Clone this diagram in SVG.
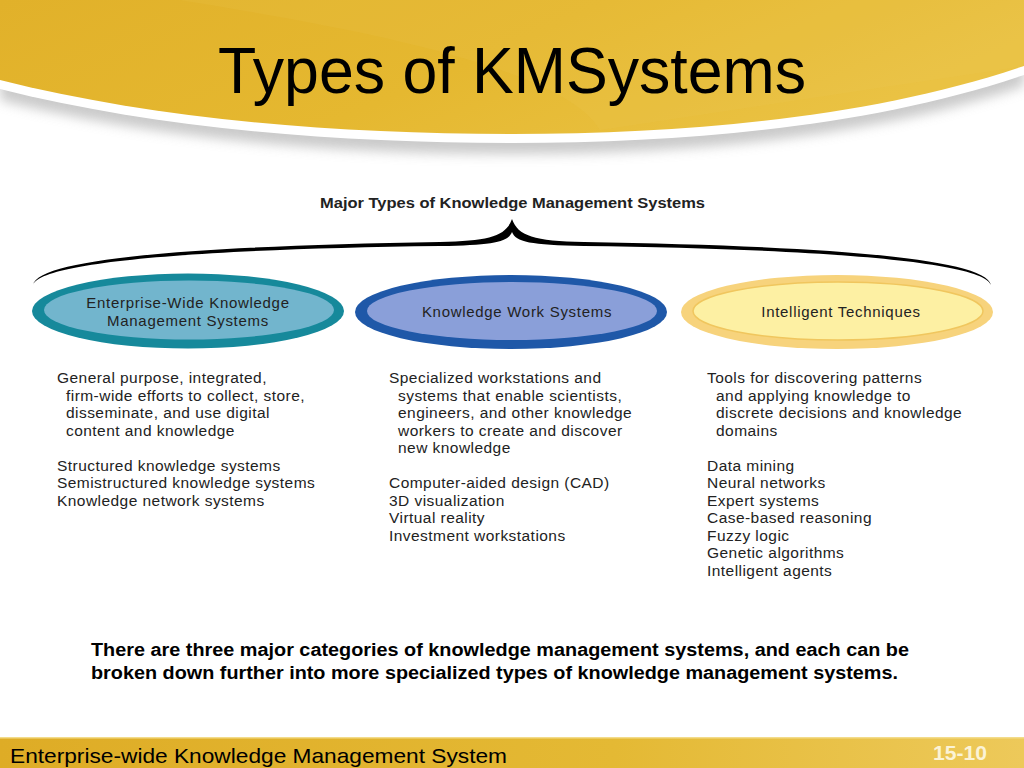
<svg xmlns="http://www.w3.org/2000/svg" width="1024" height="768" viewBox="0 0 1024 768">
<defs>
<linearGradient id="hdr" x1="0" y1="0" x2="1" y2="0.3">
<stop offset="0" stop-color="#e1b12a"/>
<stop offset="0.55" stop-color="#e5b830"/>
<stop offset="1" stop-color="#eac243"/>
</linearGradient>
<linearGradient id="ftr" x1="0" y1="0" x2="1" y2="0">
<stop offset="0" stop-color="#deac26"/>
<stop offset="0.6" stop-color="#e4b934"/>
<stop offset="1" stop-color="#edc95a"/>
</linearGradient>
<filter id="blur" x="-5%" y="-50%" width="110%" height="200%">
<feGaussianBlur stdDeviation="6"/>
</filter>
<path id="swoosh" d="M0 0 L1024 0 L1024 66 C880 115 700 134 512 134 C330 134 150 118 0 80 Z"/>
</defs>
<style>
text{font-family:"Liberation Sans",Arial,sans-serif;}
.body{font-size:15.5px;fill:#222;letter-spacing:0.45px;}
.lbl{font-size:15px;fill:#222;text-anchor:middle;letter-spacing:0.7px;}
.bold{font-weight:bold;}
</style>
<rect width="1024" height="768" fill="#ffffff"/>
<g id="header">
<use href="#swoosh" transform="translate(0,20)" fill="#bdbdbd" filter="url(#blur)" opacity="0.8"/>
<use href="#swoosh" transform="translate(0,9)" fill="#ffffff"/>
<use href="#swoosh" fill="url(#hdr)"/>
<path d="M180 0 C300 20 560 60 600 130 L1024 66 L1024 0 Z" fill="#f2d060" opacity="0.12"/>
<text x="218" y="93" font-size="64" fill="#000" textLength="588" lengthAdjust="spacingAndGlyphs">Types of KMSystems</text>
</g>
<g id="heading">
<text x="320" y="208" class="bold" font-size="14" fill="#222" textLength="385" lengthAdjust="spacingAndGlyphs">Major Types of Knowledge Management Systems</text>
</g>
<g id="connectors">
<path d="M33 285 C38 258 200 246 440 242 C490 241 506 236 512 219 C518 236 534 241 584 242 C824 246 986 258 991 285 C984 262 824 249 584 246 C530 245 516 242 512 232 C508 242 494 245 440 246 C200 249 40 262 33 285 Z" fill="#000"/>
</g>
<g id="node-enterprise">
<ellipse cx="188" cy="311" rx="156" ry="37.5" fill="#16899b"/>
<ellipse cx="189" cy="310" rx="145" ry="29.5" fill="#72b5cd"/>
<text x="188" y="308" class="lbl">Enterprise-Wide Knowledge</text>
<text x="188" y="326" class="lbl">Management Systems</text>
</g>
<g id="node-kws">
<ellipse cx="511" cy="312" rx="156" ry="37" fill="#1f58a8"/>
<ellipse cx="512" cy="311" rx="145" ry="29" fill="#8a9fd9"/>
<text x="517" y="317" class="lbl">Knowledge Work Systems</text>
</g>
<g id="node-intelligent">
<ellipse cx="837" cy="312" rx="156" ry="37" fill="#f7d37c"/>
<ellipse cx="838" cy="311" rx="145" ry="29" fill="#fdf0a3" stroke="#f0c65e" stroke-width="1.5"/>
<text x="841" y="317" class="lbl">Intelligent Techniques</text>
</g>
<g id="col-enterprise">
<text x="57" y="383" class="body">General purpose, integrated,</text>
<text x="66" y="401" class="body">firm-wide efforts to collect, store,</text>
<text x="66" y="418" class="body">disseminate, and use digital</text>
<text x="66" y="436" class="body">content and knowledge</text>
<text x="57" y="471" class="body">Structured knowledge systems</text>
<text x="57" y="488" class="body">Semistructured knowledge systems</text>
<text x="57" y="506" class="body">Knowledge network systems</text>
</g>
<g id="col-kws">
<text x="389" y="383" class="body">Specialized workstations and</text>
<text x="398" y="401" class="body">systems that enable scientists,</text>
<text x="398" y="418" class="body">engineers, and other knowledge</text>
<text x="398" y="436" class="body">workers to create and discover</text>
<text x="398" y="453" class="body">new knowledge</text>
<text x="389" y="488" class="body">Computer-aided design (CAD)</text>
<text x="389" y="506" class="body">3D visualization</text>
<text x="389" y="523" class="body">Virtual reality</text>
<text x="389" y="541" class="body">Investment workstations</text>
</g>
<g id="col-intelligent">
<text x="707" y="383" class="body">Tools for discovering patterns</text>
<text x="716" y="401" class="body">and applying knowledge to</text>
<text x="716" y="418" class="body">discrete decisions and knowledge</text>
<text x="716" y="436" class="body">domains</text>
<text x="707" y="471" class="body">Data mining</text>
<text x="707" y="488" class="body">Neural networks</text>
<text x="707" y="506" class="body">Expert systems</text>
<text x="707" y="523" class="body">Case-based reasoning</text>
<text x="707" y="541" class="body">Fuzzy logic</text>
<text x="707" y="558" class="body">Genetic algorithms</text>
<text x="707" y="576" class="body">Intelligent agents</text>
</g>
<g id="caption">
<text x="91" y="656" class="bold" font-size="18" fill="#000" textLength="818" lengthAdjust="spacingAndGlyphs">There are three major categories of knowledge management systems, and each can be</text>
<text x="91" y="679" class="bold" font-size="18" fill="#000" textLength="807" lengthAdjust="spacingAndGlyphs">broken down further into more specialized types of knowledge management systems.</text>
</g>
<g id="footer">
<rect x="0" y="737" width="1024" height="31" fill="url(#ftr)"/>
<rect x="0" y="737" width="1024" height="1.5" fill="#f3dc8a"/>
<text x="10" y="763" font-size="21" fill="#000" textLength="497" lengthAdjust="spacingAndGlyphs">Enterprise-wide Knowledge Management System</text>
<text x="933" y="760" font-size="20" class="bold" fill="#fbf3d6" textLength="54" lengthAdjust="spacingAndGlyphs">15-10</text>
</g>
</svg>
